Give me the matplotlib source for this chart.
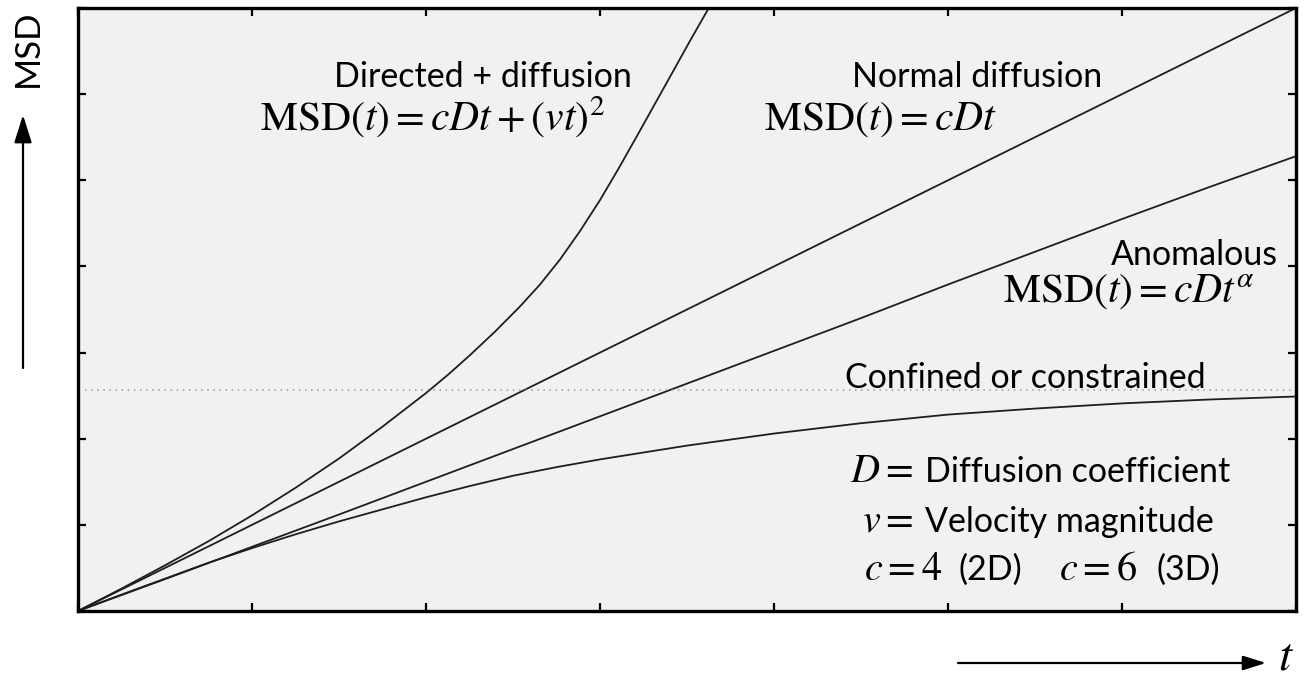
import matplotlib
matplotlib.use("Agg")
import matplotlib.pyplot as plt

plt.rcParams['font.family'] = ['Lato', 'DejaVu Sans']
plt.rcParams['mathtext.fontset'] = 'stix'

# ---- data (x and y in tick units) ----
t_directed = [0, 0.25, 0.5, 0.75, 1.0, 1.25, 1.5, 1.75, 2.0, 2.125, 2.25, 2.395, 2.54, 2.655,
              2.77, 2.885, 3.0, 3.105, 3.21, 3.315, 3.42, 3.515, 3.625]
msd_directed = [0, 0.26, 0.53, 0.81, 1.11, 1.43, 1.77, 2.14, 2.53, 2.74, 2.965, 3.24, 3.535, 3.79,
                4.08, 4.41, 4.77, 5.13, 5.505, 5.885, 6.265, 6.61, 7.0]

t_normal = [0, 1, 2, 3, 4, 5, 6, 7]
msd_normal = [0, 1, 2, 3, 4, 5, 6, 7]

t_anom = [0, 0.5, 1, 1.5, 2, 2.5, 3, 3.5, 4, 4.5, 5, 5.5, 6, 6.5, 7]
msd_anom = [0, 0.37, 0.745, 1.12, 1.50, 1.88, 2.26, 2.64, 3.02, 3.40, 3.79, 4.17, 4.55, 4.92, 5.28]

t_conf = [0, 0.25, 0.5, 0.75, 1, 1.25, 1.5, 1.75, 2, 2.25, 2.5, 2.75, 3, 3.5, 4,
          4.5, 5, 5.5, 6, 6.5, 7]
msd_conf = [0, 0.19, 0.375, 0.56, 0.73, 0.89, 1.04, 1.18, 1.32, 1.45, 1.57, 1.67, 1.76, 1.92, 2.06,
            2.18, 2.28, 2.35, 2.41, 2.455, 2.49]

confinement_level = 2.56
x_ticks = [0, 1, 2, 3, 4, 5, 6, 7]
y_ticks = [0, 1, 2, 3, 4, 5, 6, 7]

# ---- figure ----
W, H = 1310, 676
fig = plt.figure(figsize=(W / 100, H / 100), dpi=100)
ax = fig.add_axes([78 / W, 1 - 611 / H, (1296 - 78) / W, (611 - 8) / H])
ax.set_facecolor('#f1f1f1')

line_kw = dict(color='#1e1e1e', lw=1.3, solid_capstyle='round', solid_joinstyle='round')
ax.plot(t_directed, msd_directed, **line_kw)
ax.plot(t_normal, msd_normal, **line_kw)
ax.plot(t_anom, msd_anom, **line_kw)
ax.plot(t_conf, msd_conf, **line_kw)
ax.axhline(confinement_level, xmin=0.006, color='#9a9a9a', lw=1.1, ls=(0, (1, 3)))

ax.set_xlim(0, 7)
ax.set_ylim(0, 7)
ax.set_xticks(x_ticks)
ax.set_yticks(y_ticks)
ax.tick_params(direction='in', length=5.5, width=1.6, top=True, right=True,
               labelbottom=False, labelleft=False)
for s in ax.spines.values():
    s.set_linewidth(2.4)
    s.set_color('black')

sans = 24.5
mth = 30


def X(px):
    return (px - 78) / 174.0


def Y(py):
    return (611 - py) / 86.1


ax.text(X(483), Y(87), 'Directed + diffusion', fontsize=sans, ha='center', va='baseline')
ax.text(X(432), Y(131), r'$\mathrm{MSD}(t) = cDt + (vt)^2$', fontsize=mth, ha='center', va='baseline')
ax.text(X(977), Y(87), 'Normal diffusion', fontsize=sans, ha='center', va='baseline')
ax.text(X(880), Y(130), r'$\mathrm{MSD}(t) = cDt$', fontsize=mth, ha='center', va='baseline')
ax.text(X(1278), Y(265), 'Anomalous', fontsize=sans, ha='right', va='baseline')
ax.text(X(1255), Y(303), r'$\mathrm{MSD}(t) = cDt^{\alpha}$', fontsize=mth, ha='right', va='baseline')
ax.text(X(1025), Y(388), 'Confined or constrained', fontsize=sans, ha='center', va='baseline')

ax.text(X(913), Y(482), r'$D=$', fontsize=29, ha='right', va='baseline')
ax.text(X(925), Y(482), 'Diffusion coefficient', fontsize=sans, ha='left', va='baseline')
ax.text(X(913), Y(532), r'$v=$', fontsize=29, ha='right', va='baseline')
ax.text(X(925), Y(532), 'Velocity magnitude', fontsize=sans, ha='left', va='baseline')
ax.text(X(942), Y(580), r'$c=4$', fontsize=29, ha='right', va='baseline')
ax.text(X(958), Y(580), '(2D)', fontsize=sans, ha='left', va='baseline')
ax.text(X(1137), Y(580), r'$c=6$', fontsize=29, ha='right', va='baseline')
ax.text(X(1157), Y(580), '(3D)', fontsize=sans, ha='left', va='baseline')

# axis arrows and labels
yarrow = dict(arrowstyle='-|>,head_length=0.85,head_width=0.27', color='black',
              lw=1.6, shrinkA=0, shrinkB=0, mutation_scale=20)
xarrow = dict(arrowstyle='-|>,head_length=0.7,head_width=0.22', color='black',
              lw=1.6, shrinkA=0, shrinkB=0, mutation_scale=20)
ax.annotate('', xy=(23, H - 115), xytext=(23, H - 368), xycoords='figure pixels',
            textcoords='figure pixels', arrowprops=yarrow, annotation_clip=False)
ax.annotate('', xy=(1266, H - 663), xytext=(958, H - 663), xycoords='figure pixels',
            textcoords='figure pixels', arrowprops=xarrow, annotation_clip=False)
fig.text(28 / W, 1 - 48 / H, 'MSD', rotation=90, fontsize=25, ha='center', va='center')
fig.text(1286 / W, 1 - 657 / H, r'$t$', fontsize=34, ha='center', va='center')

fig.savefig('out.png', dpi=100)
